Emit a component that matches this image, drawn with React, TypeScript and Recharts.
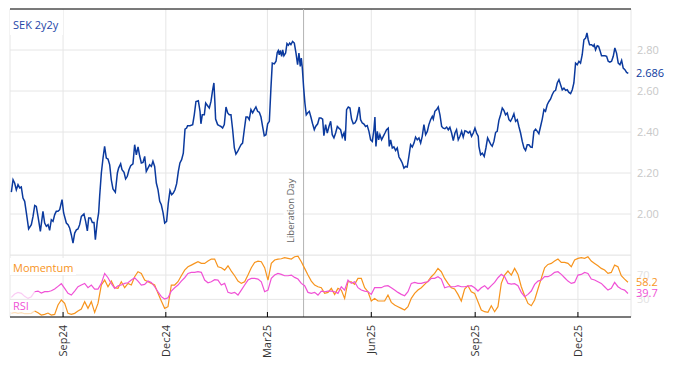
import React from "react";
import { LineChart, Line, XAxis, YAxis, CartesianGrid, ReferenceLine } from "recharts";

const DAY = 86400000;
const startDate = Date.UTC(2024, 6, 16);
const endDate = startDate + 550 * DAY;

const tickDates = ["2024-09-01", "2024-12-01", "2025-03-01", "2025-06-01", "2025-09-01", "2025-12-01"];
const tickLabels = ["Sep24", "Dec24", "Mar25", "Jun25", "Sep25", "Dec25"];
const eventDate = "2025-04-02";
const eventLabel = "Liberation Day";
const seriesName = "SEK 2y2y";

// days since startDate
const sekDays = [
  1.2, 2.7, 4.1, 5.6, 7.1, 8.6, 10.0, 11.5, 13.0, 14.5,
  16.5, 18.9, 20.4, 21.9, 23.3, 24.8, 26.9, 29.2, 30.7, 32.2,
  33.7, 35.1, 36.6, 38.1, 39.6, 41.0, 42.5, 44.0, 46.1, 47.5,
  49.9, 51.4, 52.8, 54.3, 55.8, 57.3, 58.8, 60.2, 61.7, 63.2,
  65.5, 67.0, 68.5, 69.7, 71.4, 72.9, 74.4, 75.6, 77.3, 78.5,
  79.4, 80.9, 82.4, 83.8, 85.3, 86.8, 88.3, 89.7, 91.2, 93.3,
  95.1, 96.2, 98.0, 99.2, 101.0, 102.4, 103.9, 105.4, 106.9, 108.9,
  110.4, 111.9, 113.4, 114.8, 116.3, 117.8, 119.3, 120.7, 122.2, 123.7,
  125.2, 126.6, 128.1, 129.6, 131.1, 132.6, 134.0, 135.5, 137.0, 138.7,
  140.2, 141.7, 143.2, 144.6, 146.1, 147.6, 149.1, 150.5, 152.0, 153.5,
  155.0, 156.4, 157.3, 159.4, 161.8, 163.2, 164.7, 166.8, 168.3, 169.1,
  170.3, 172.1, 173.3, 175.0, 176.5, 178.0, 179.5, 180.6, 181.5, 182.1,
  183.9, 185.4, 186.8, 188.3, 189.8, 191.3, 192.8, 194.2, 195.7, 197.2,
  198.7, 200.1, 201.6, 203.1, 204.6, 206.0, 207.5, 209.0, 210.5, 211.9,
  213.4, 214.9, 216.4, 217.8, 219.3, 220.8, 222.3, 223.7, 225.2, 226.7,
  228.2, 229.7, 231.1, 232.3, 234.1, 235.6, 236.7, 237.6, 238.5, 239.4,
  240.6, 241.5, 242.6, 244.1, 245.3, 246.5, 247.7, 248.8, 250.3, 251.8,
  253.3, 254.7, 255.9, 257.1, 258.0, 258.9, 260.1, 261.2, 262.4, 263.6,
  265.1, 266.5, 268.0, 269.5, 270.7, 272.5, 273.9, 275.4, 276.9, 278.0,
  279.5, 281.0, 282.5, 284.0, 285.4, 286.9, 288.4, 289.9, 291.3, 292.8,
  294.3, 295.8, 296.9, 298.1, 299.6, 301.1, 302.5, 304.0, 305.5, 307.0,
  308.5, 309.3, 310.5, 312.0, 313.5, 314.9, 316.4, 317.9, 319.4, 320.9,
  322.3, 323.2, 324.1, 325.3, 326.5, 327.6, 329.1, 330.6, 332.1, 333.5,
  335.0, 335.9, 337.1, 338.6, 340.0, 341.5, 343.0, 344.5, 345.9, 347.4,
  348.9, 350.4, 351.8, 353.3, 354.8, 356.3, 357.8, 359.2, 360.7, 362.2,
  363.7, 365.1, 366.6, 368.1, 369.6, 371.0, 372.5, 374.0, 374.9, 376.3,
  377.8, 379.3, 380.8, 382.3, 383.7, 385.2, 386.7, 388.2, 389.6, 391.1,
  392.6, 394.1, 395.5, 397.0, 398.5, 400.0, 401.4, 402.9, 404.4, 405.9,
  407.3, 408.8, 410.3, 411.8, 413.2, 414.7, 415.3, 416.8, 418.3, 420.0,
  421.5, 423.0, 424.5, 425.9, 427.1, 428.6, 430.1, 431.5, 433.0, 434.5,
  436.0, 437.4, 438.9, 440.4, 441.9, 443.3, 444.8, 446.3, 447.8, 449.3,
  450.7, 452.2, 453.7, 455.2, 456.6, 458.1, 459.6, 461.1, 462.5, 464.0,
  465.5, 467.0, 468.4, 469.9, 471.4, 472.9, 474.3, 475.8, 477.3, 478.8,
  480.2, 481.7, 483.2, 484.7, 486.2, 487.6, 489.1, 490.6, 492.1, 493.5,
  495.0, 496.5, 498.0, 499.4, 500.9, 502.4, 503.9, 505.3, 506.8, 508.3,
  509.8, 511.0, 512.1, 513.3, 515.1, 516.6, 517.4, 518.6, 520.1, 521.3,
  522.5, 523.9, 525.4, 526.9, 528.4, 529.8, 531.3, 532.8, 534.3, 535.7,
  537.2, 538.7, 540.2, 541.7, 543.1, 544.6, 546.1, 547.6,
];

const sekValues = [
  2.107, 2.167, 2.151, 2.118, 2.143, 2.127, 2.132, 2.078, 2.062, 2.005,
  1.927, 1.948, 1.988, 2.042, 2.037, 1.988, 1.915, 2.013, 1.956, 1.940,
  1.948, 1.920, 1.972, 1.964, 1.997, 2.013, 2.013, 2.021, 2.070, 2.005,
  1.956, 1.948, 1.932, 1.899, 1.858, 1.907, 1.923, 1.927, 1.948, 1.988,
  2.000, 1.964, 1.918, 1.980, 1.980, 1.959, 1.959, 1.875, 1.964, 2.005,
  2.086, 2.200, 2.273, 2.330, 2.273, 2.268, 2.240, 2.167, 2.122, 2.106,
  2.200, 2.224, 2.245, 2.216, 2.203, 2.171, 2.184, 2.216, 2.236, 2.245,
  2.338, 2.289, 2.327, 2.284, 2.249, 2.252, 2.281, 2.208, 2.224, 2.240,
  2.232, 2.257, 2.232, 2.151, 2.118, 2.062, 2.045, 2.008, 1.956, 1.964,
  2.053, 2.114, 2.094, 2.102, 2.118, 2.148, 2.208, 2.249, 2.265, 2.297,
  2.414, 2.419, 2.431, 2.431, 2.436, 2.484, 2.549, 2.553, 2.501, 2.440,
  2.484, 2.484, 2.541, 2.528, 2.517, 2.549, 2.606, 2.639, 2.541, 2.463,
  2.436, 2.431, 2.427, 2.419, 2.436, 2.522, 2.493, 2.484, 2.484, 2.411,
  2.322, 2.292, 2.305, 2.322, 2.338, 2.346, 2.411, 2.473, 2.473, 2.460,
  2.509, 2.493, 2.509, 2.522, 2.501, 2.496, 2.473, 2.427, 2.382, 2.387,
  2.440, 2.452, 2.614, 2.736, 2.732, 2.745, 2.788, 2.797, 2.777, 2.798,
  2.769, 2.801, 2.772, 2.785, 2.831, 2.823, 2.834, 2.826, 2.842, 2.834,
  2.785, 2.728, 2.785, 2.720, 2.761, 2.712, 2.614, 2.541, 2.484, 2.493,
  2.501, 2.473, 2.440, 2.411, 2.427, 2.440, 2.468, 2.468, 2.463, 2.382,
  2.436, 2.395, 2.427, 2.452, 2.387, 2.371, 2.395, 2.427, 2.419, 2.411,
  2.375, 2.395, 2.358, 2.509, 2.522, 2.517, 2.463, 2.440, 2.444, 2.460,
  2.501, 2.522, 2.460, 2.444, 2.439, 2.427, 2.431, 2.403, 2.362, 2.354,
  2.411, 2.473, 2.330, 2.403, 2.362, 2.387, 2.362, 2.379, 2.395, 2.411,
  2.419, 2.330, 2.362, 2.322, 2.327, 2.310, 2.322, 2.278, 2.265, 2.249,
  2.224, 2.232, 2.229, 2.281, 2.338, 2.327, 2.346, 2.375, 2.362, 2.371,
  2.346, 2.379, 2.436, 2.387, 2.403, 2.436, 2.460, 2.476, 2.463, 2.501,
  2.509, 2.522, 2.484, 2.427, 2.419, 2.416, 2.424, 2.411, 2.423, 2.395,
  2.358, 2.395, 2.411, 2.362, 2.379, 2.403, 2.375, 2.406, 2.403, 2.395,
  2.403, 2.379, 2.395, 2.419, 2.395, 2.379, 2.330, 2.289, 2.297, 2.281,
  2.322, 2.371, 2.354, 2.338, 2.330, 2.354, 2.398, 2.403, 2.457, 2.484,
  2.517, 2.506, 2.484, 2.493, 2.460, 2.452, 2.468, 2.489, 2.452, 2.460,
  2.427, 2.395, 2.354, 2.322, 2.310, 2.338, 2.338, 2.327, 2.325, 2.403,
  2.414, 2.403, 2.392, 2.427, 2.463, 2.509, 2.501, 2.533, 2.549, 2.561,
  2.582, 2.598, 2.603, 2.639, 2.655, 2.631, 2.606, 2.614, 2.603, 2.606,
  2.593, 2.587, 2.606, 2.639, 2.736, 2.728, 2.745, 2.736, 2.777, 2.850,
  2.858, 2.883, 2.850, 2.826, 2.826, 2.818, 2.826, 2.801, 2.821, 2.818,
  2.798, 2.772, 2.772, 2.772, 2.769, 2.745, 2.741, 2.745, 2.769, 2.810,
  2.785, 2.736, 2.728, 2.749, 2.712, 2.704, 2.691, 2.686,
];
const sekTicks = [2.0, 2.2, 2.4, 2.6, 2.8];

// oscillators are sampled every oscStepDays from oscFirstDay
const oscFirstDay = 1.18;
const oscStepDays = 2.952;
const oscWarmup = 7;

const momentum = [
  7.0, 8.6, 7.0, 8.1, 6.4, 6.4, 7.0, 10.8, 8.1, 4.2,
  5.3, 7.5, 4.2, 5.3, 20.7, 28.9, 23.4, 7.0, 5.3, 7.0,
  10.8, 14.1, 26.2, 15.2, 26.2, 8.6, 23.4, 53.6, 61.8, 50.8,
  60.1, 49.2, 48.1, 59.0, 49.2, 56.3, 53.6, 67.3, 75.5, 72.7,
  61.8, 59.0, 56.3, 53.6, 39.9, 27.3, 15.2, 18.0, 53.6, 53.6,
  59.0, 68.9, 78.2, 83.7, 86.4, 89.2, 91.9, 89.2, 89.2, 93.0,
  96.3, 96.3, 83.7, 82.1, 78.2, 85.3, 76.6, 68.9, 60.1, 56.3,
  59.0, 70.0, 82.1, 90.8, 93.0, 91.9, 82.1, 61.8, 89.2, 94.7,
  96.3, 96.8, 98.5, 97.4, 96.3, 100.1, 101.2, 91.9, 81.0, 70.0,
  60.1, 53.6, 50.8,
  49.2, 39.9, 41.5, 48.1, 38.2, 48.1, 45.3, 31.6, 59.0, 59.0,
  54.7, 64.5, 64.5, 49.2, 42.6, 27.3, 31.6, 27.3, 27.3, 27.3,
  37.1, 25.1, 20.7, 18.0, 15.2, 12.5, 18.0, 31.6, 39.9, 45.3,
  49.2, 54.7, 60.1, 67.3, 72.7, 81.0, 75.5, 64.5, 56.3, 49.2,
  47.0, 38.2, 27.3, 47.0, 52.5, 42.6, 39.9, 26.2, 12.5, 9.7,
  8.6, 19.6, 9.7, 18.0, 56.3, 70.0, 76.6, 70.0, 81.0, 71.1,
  50.8, 36.0, 23.4, 19.6, 28.9, 47.0, 64.5, 82.1, 87.5, 89.2,
  93.0, 96.3, 90.8, 90.8, 89.2, 83.7, 94.7, 97.4, 98.5, 97.4,
  100.1, 93.0, 89.2, 85.3, 81.0, 78.2, 72.7, 74.4, 86.4, 83.7,
  68.9, 63.4, 58.2,
];

const rsi = [
  33.3, 38.8, 41.5, 39.9, 35.0, 31.6, 34.4, 42.6, 43.7, 40.4,
  42.6, 42.6, 44.2, 47.0, 51.4, 55.8, 48.1, 39.9, 37.1, 43.7,
  50.8, 53.6, 56.3, 49.2, 53.6, 47.0, 47.0, 56.3, 72.7, 65.6,
  55.8, 48.1, 52.5, 53.6, 56.3, 57.4, 61.8, 65.6, 60.1, 53.6,
  54.7, 60.1, 57.9, 50.8, 42.6, 34.4, 30.5, 32.7, 43.7, 49.2,
  53.6, 60.1, 65.6, 72.7, 74.4, 74.4, 75.5, 74.4, 61.8, 57.4,
  59.0, 62.3, 61.8, 53.6, 56.3, 41.5, 39.9, 41.5, 37.1, 45.3,
  53.6, 61.8, 64.5, 64.5, 63.4, 59.0, 42.6, 45.3, 64.5, 70.0,
  72.7, 71.1, 68.9, 68.9, 70.0, 66.2, 63.4, 56.3, 52.5, 41.5,
  39.9, 41.5, 37.1,
  43.7, 42.6, 43.7, 43.7, 42.6, 39.9, 50.8, 45.3, 61.8, 56.3,
  59.0, 49.2, 45.3, 43.7, 42.6, 38.2, 49.2, 49.2, 49.2, 51.9,
  52.5, 49.2, 45.3, 41.5, 38.2, 36.0, 42.6, 56.3, 57.9, 56.3,
  56.3, 57.9, 59.0, 64.5, 64.5, 67.3, 63.4, 49.2, 50.8, 50.8,
  50.8, 52.5, 50.8, 50.8, 51.9, 52.5, 49.2, 43.7, 49.2, 52.5,
  47.0, 52.5, 57.9, 65.6, 71.1, 67.3, 56.3, 55.2, 55.8, 52.5,
  41.5, 34.4, 38.2, 43.7, 54.7, 60.1, 61.8, 67.3, 67.3, 70.0,
  74.4, 75.5, 71.1, 65.6, 60.1, 56.3, 57.9, 70.0, 71.1, 74.4,
  72.7, 63.4, 61.8, 59.0, 56.3, 50.8, 45.3, 48.1, 57.9, 50.8,
  47.0, 45.3, 39.7,
];
const oscTicks = [30, 70];

const BLUE = "#0b3a9e";
const ORANGE = "#f7941d";
const PINK = "#f052d6";
const GRID = "#e6e6e6";

const toTs = (s: string) => Date.parse(s + "T00:00:00Z");
const tickTs = tickDates.map(toTs);
const eventTs = toTs(eventDate);

const sekData = sekDays.map((d, i) => ({ t: startDate + d * DAY, v: sekValues[i] }));
const sekLast = sekValues[sekValues.length - 1];

const oscData = momentum.map((m, i) => ({
  t: startDate + (oscFirstDay + i * oscStepDays) * DAY,
  mom: i >= oscWarmup ? m : null,
  momWarm: i <= oscWarmup ? m : null,
  rsi: i >= oscWarmup ? rsi[i] : null,
  rsiWarm: i <= oscWarmup ? rsi[i] : null,
}));
const momLast = momentum[momentum.length - 1];
const rsiLast = rsi[rsi.length - 1];

const labelFor = (v: number) => tickLabels[tickTs.indexOf(v)] ?? "";

const InnerTick = (props: any) => {
  const { x, y } = props;
  return <line x1={x} x2={x} y1={y} y2={y - 5} stroke="#000" />;
};

const DateTick = (props: any) => {
  const { x, y, payload } = props;
  const ty = y + 8;
  return (
    <g>
      <line x1={x} x2={x} y1={y} y2={y - 5} stroke="#000" />
      <text
        x={x}
        y={ty}
        transform={`rotate(-90 ${x} ${ty})`}
        textAnchor="end"
        dy="0.35em"
        fontSize={11}
        fill="#333"
      >
        {labelFor(payload.value)}
      </text>
    </g>
  );
};

const EventLabel = (props: any) => {
  const vb = props.viewBox;
  const bottom = vb.y + vb.height;
  const tx = vb.x - 13;
  const ty = bottom - 12;
  return (
    <g>
      <rect x={vb.x - 20} y={bottom - 80} width={19} height={71} fill="#fff" />
      <text
        x={tx}
        y={ty}
        transform={`rotate(-90 ${tx} ${ty})`}
        textAnchor="start"
        dy="0.35em"
        fontSize={9.5}
        fill="#666"
      >
        {eventLabel}
      </text>
    </g>
  );
};

const SekChart = () => (
  <LineChart width={674} height={256} data={sekData} margin={{ top: 9, right: 0, bottom: 1, left: 10 }}>
    <CartesianGrid stroke={GRID} />
    <XAxis
      dataKey="t"
      type="number"
      domain={[startDate, endDate]}
      ticks={tickTs}
      interval={0}
      allowDataOverflow
      height={0}
      tickSize={0}
      tickMargin={0}
      tickLine={false}
      axisLine={{ stroke: "#000" }}
      tick={(p: any) => <InnerTick {...p} />}
    />
    <YAxis
      orientation="right"
      width={43}
      domain={[1.8, 3.0]}
      ticks={sekTicks}
      interval={0}
      allowDataOverflow
      axisLine={false}
      tickLine={false}
      tickSize={6}
      tickMargin={0}
      tick={{ fill: "#c8c8c8", fontSize: 11 }}
      tickFormatter={(v: number) => v.toFixed(2)}
    />
    <ReferenceLine y={3.0} stroke="#000" />
    <ReferenceLine x={eventTs} stroke="#b4b4b4" label={(p: any) => <EventLabel {...p} />} />
    <ReferenceLine
      y={sekLast}
      stroke="none"
      label={{ value: sekLast.toFixed(3), position: "right", fill: BLUE, fontSize: 11 }}
    />
    <Line type="linear" dataKey="v" stroke={BLUE} strokeWidth={1.5} dot={false} isAnimationActive={false} />
  </LineChart>
);

const OscChart = () => (
  <LineChart width={674} height={111} data={oscData} margin={{ top: 0, right: 0, bottom: 0, left: 10 }}>
    <CartesianGrid stroke={GRID} />
    <XAxis
      dataKey="t"
      type="number"
      domain={[startDate, endDate]}
      ticks={tickTs}
      interval={0}
      allowDataOverflow
      height={49}
      tickSize={0}
      tickMargin={0}
      tickLine={false}
      axisLine={{ stroke: "#000" }}
      tick={(p: any) => <DateTick {...p} />}
    />
    <YAxis
      orientation="right"
      width={43}
      domain={[1, 103]}
      ticks={oscTicks}
      interval={0}
      allowDataOverflow
      axisLine={false}
      tickLine={false}
      tickSize={6}
      tickMargin={0}
      tick={{ fill: "#e2e2e2", fontSize: 11 }}
    />
    <ReferenceLine x={eventTs} stroke="#b4b4b4" />
    <Line dataKey="momWarm" stroke={ORANGE} strokeOpacity={0.3} strokeWidth={1.2} dot={false} isAnimationActive={false} />
    <Line dataKey="rsiWarm" stroke={PINK} strokeOpacity={0.3} strokeWidth={1.2} dot={false} isAnimationActive={false} />
    <Line dataKey="mom" stroke={ORANGE} strokeWidth={1.2} dot={false} isAnimationActive={false} />
    <Line dataKey="rsi" stroke={PINK} strokeWidth={1.2} dot={false} isAnimationActive={false} />
    <ReferenceLine y={momLast} stroke="none" label={{ value: momLast.toFixed(1), position: "right", fill: ORANGE, fontSize: 11 }} />
    <ReferenceLine y={rsiLast} stroke="none" label={{ value: rsiLast.toFixed(1), position: "right", fill: PINK, fontSize: 11 }} />
  </LineChart>
);

export default function App() {
  return (
    <div
      style={{
        position: "absolute",
        left: 0,
        top: 0,
        width: 674,
        height: 366,
        background: "#fff",
        fontFamily: "'Open Sans', sans-serif",
      }}
    >
      <div style={{ position: "absolute", left: 0, top: 0 }}>
        <SekChart />
      </div>
      <div style={{ position: "absolute", left: 0, top: 255 }}>
        <OscChart />
      </div>
      <div
        style={{
          position: "absolute", left: 10, top: 10, width: 53, height: 25, boxSizing: "border-box",
          paddingLeft: 3, paddingTop: 7, background: "#fff", color: "#2546a8", fontSize: 11, lineHeight: "15px",
        }}
      >
        {seriesName}
      </div>
      <div
        style={{
          position: "absolute", left: 10, top: 258, width: 66, height: 17, boxSizing: "border-box",
          paddingLeft: 3, paddingTop: 2, background: "#fff", color: ORANGE, fontSize: 11, lineHeight: "15px",
        }}
      >
        Momentum
      </div>
      <div style={{ position: "absolute", left: 10, top: 300, width: 21, height: 12, background: "#fff" }} />
      <div style={{ position: "absolute", left: 13, top: 298, color: PINK, fontSize: 11, lineHeight: "15px" }}>
        RSI
      </div>
    </div>
  );
}
